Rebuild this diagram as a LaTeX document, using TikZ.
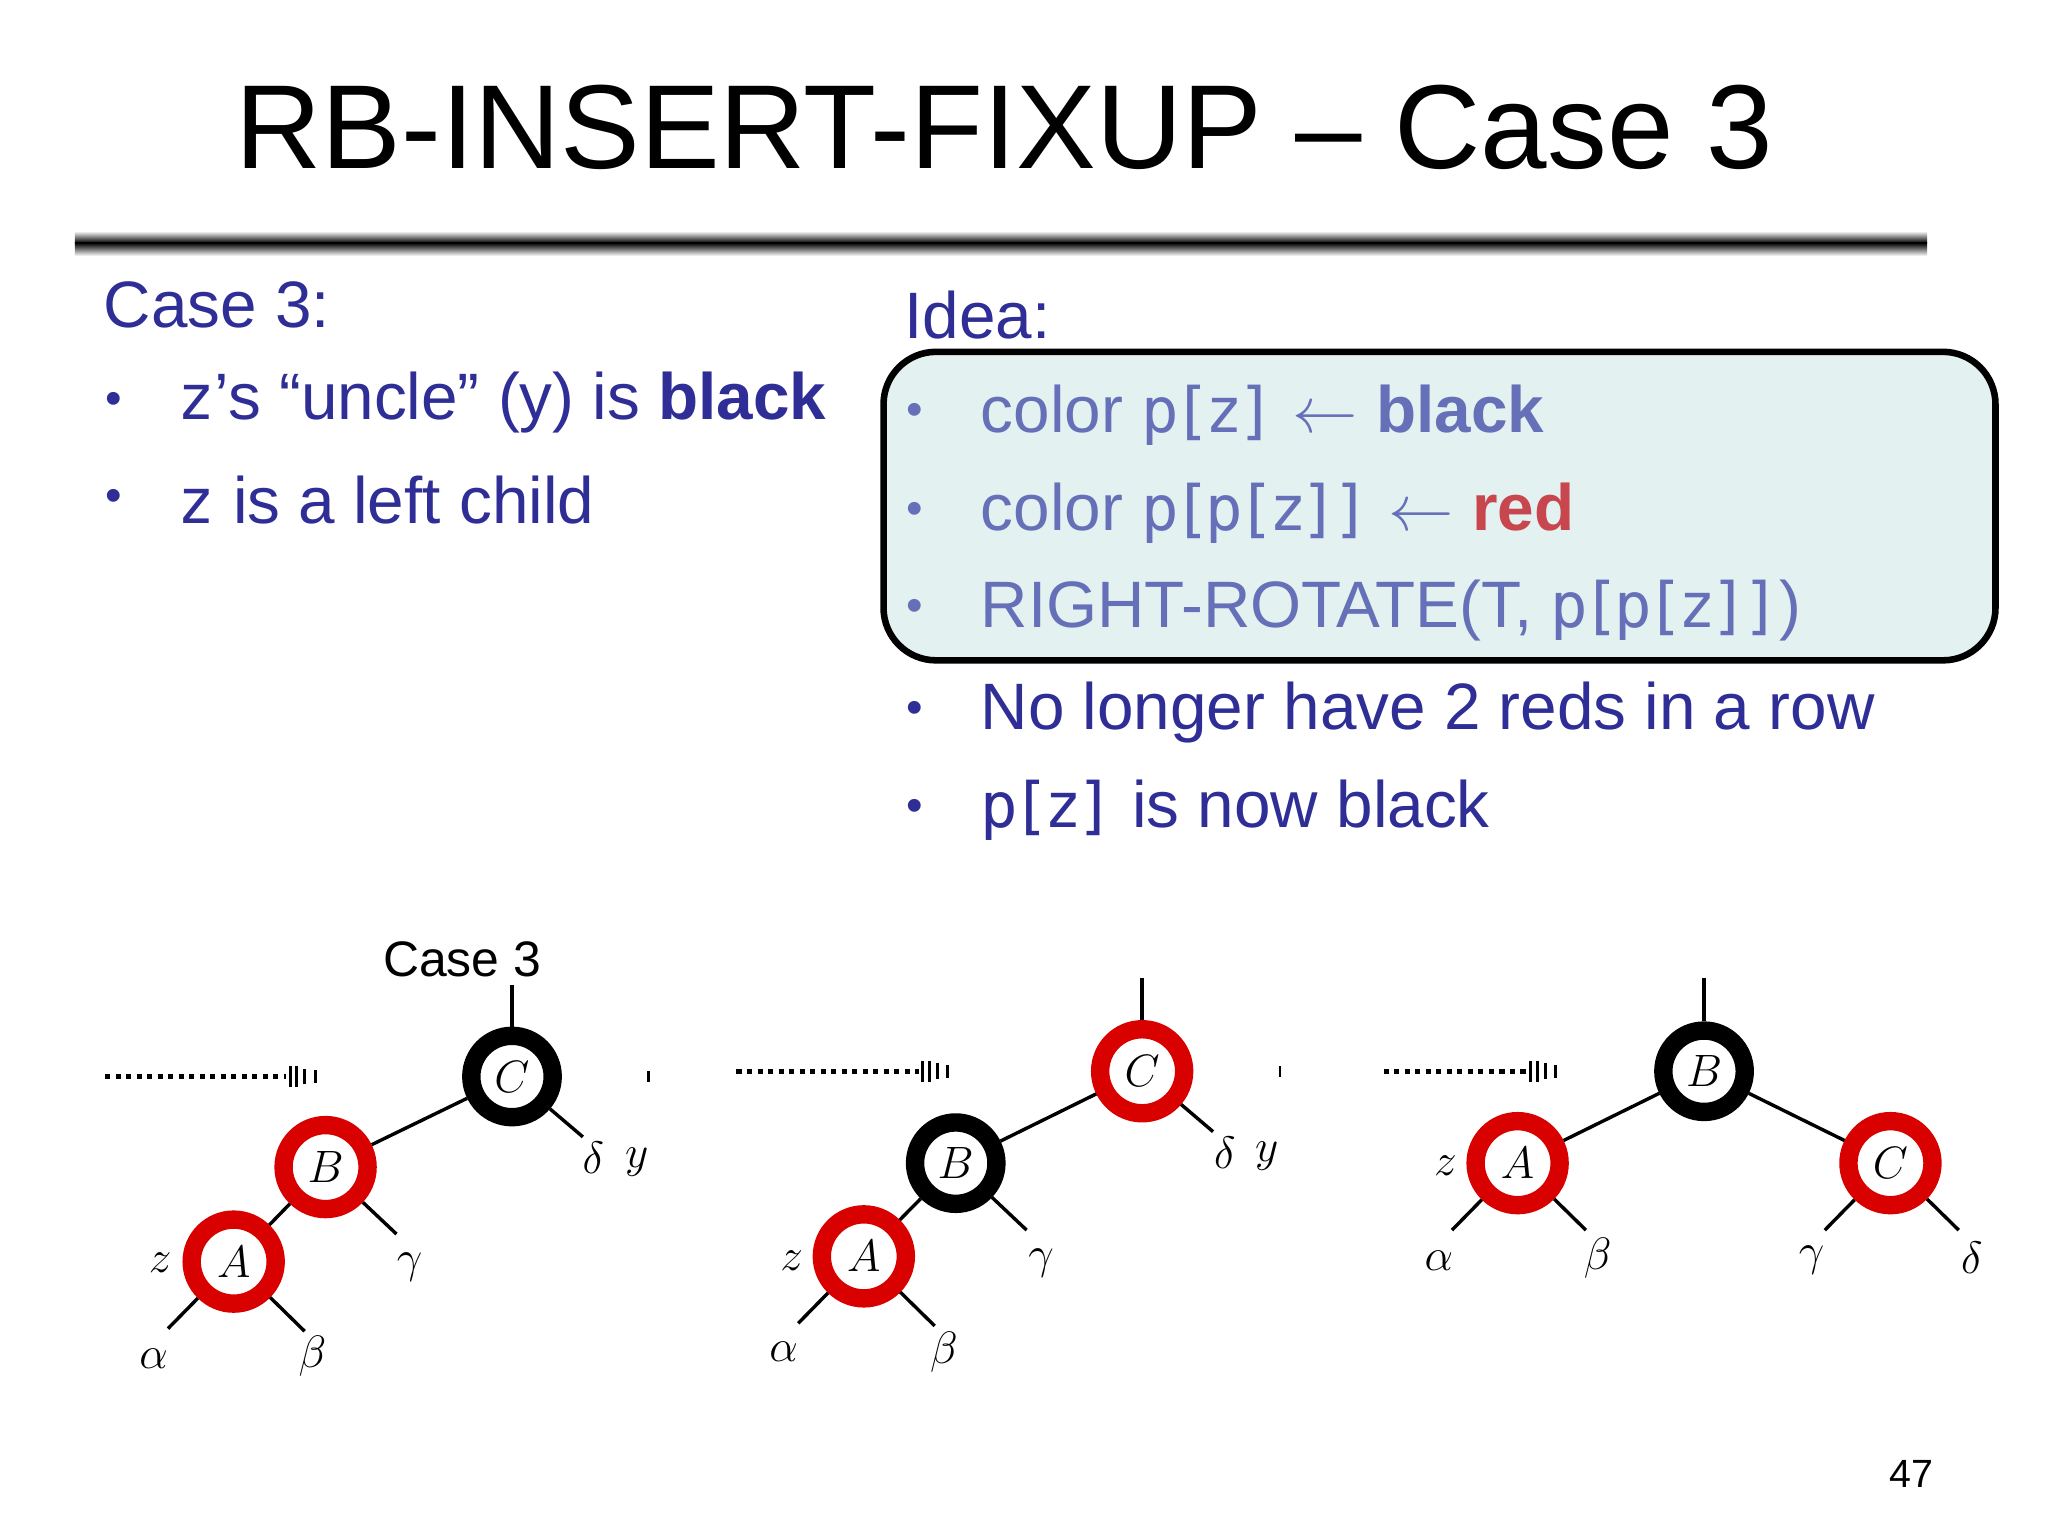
\documentclass[tikz,border=0pt]{standalone}
\usepackage{fontspec}
\setmainfont{Liberation Sans}
\newfontfamily\monof[Scale=0.95,LetterSpace=-9]{DejaVu Sans Mono}
\begin{document}
\begin{tikzpicture}[x=0.5pt,y=-0.5pt,
  redn/.style={circle,draw=red!85!black,line width=7pt,minimum size=32pt,inner sep=0pt,font=\fontsize{17}{17}\selectfont},
  blkn/.style={circle,draw=black,line width=7pt,minimum size=31pt,inner sep=0pt,font=\fontsize{17}{17}\selectfont},
  edge/.style={line width=1.3pt},
  lab/.style={font=\fontsize{17}{17}\selectfont},
  body/.style={anchor=west,font=\fontsize{25}{25}\selectfont,text=maincol},
  bul/.style={font=\fontsize{18}{18}\selectfont},
  darr/.style={line width=2pt,dotted}]
\definecolor{maincol}{HTML}{2E2E96}
\definecolor{ideacol}{HTML}{6670B8}
\definecolor{redcol}{HTML}{C8464E}
\definecolor{boxfill}{HTML}{E3F1F0}
\useasboundingbox (0,0) rectangle (1560,1170);
\fill[white] (0,0) rectangle (1560,1170);
% title
\node[font=\fontsize{45.5}{46}\selectfont] (title) at (765,97) {RB-INSERT-FIXUP -- Case 3};
\shade[top color=white,bottom color=black] (57,176) rectangle (1468,185);
\shade[top color=black,bottom color=white] (57,185) rectangle (1468,195);
% left
\node[body] (c3) at (72,232) {Case 3:};
\node[bul,text=maincol] (b1) at (87,307) {•};
\node[body] (t1) at (128,307) {{\monof z}’s “uncle” (y) is \textbf{black}};
\node[bul,text=maincol] (b2) at (87,381) {•};
\node[body] (t2) at (128,381) {{\monof z} is a left child};
% idea
\node[body] (idea) at (682,240) {Idea:};
\draw[line width=2.5pt,fill=boxfill,rounded corners=20pt] (673,268) rectangle (1520,503);
\node[bul,text=ideacol] (b3) at (697,316) {•};
\node[body,text=ideacol] (t3) at (740,316) {color {\monof p[z]} $\leftarrow$ \textbf{black}};
\node[bul,text=ideacol] (b4) at (697,391) {•};
\node[body,text=ideacol] (t4) at (740,391) {color {\monof p[p[z]]} $\leftarrow$ \textbf{\color{redcol}red}};
\node[bul,text=ideacol] (b5) at (697,465) {•};
\node[body,text=ideacol] (t5) at (740,465) {RIGHT-ROTATE(T, {\monof p[p[z]]})};
\node[bul,text=maincol] (b6) at (697,543) {•};
\node[body] (t6) at (740,543) {No longer have 2 reds in a row};
\node[bul,text=maincol] (b7) at (697,617) {•};
\node[body] (t7) at (740,617) {{\monof p[z]} is now black};
% tree 1
\node[font=\fontsize{19}{19}\selectfont] (case3) at (352,731) {Case 3};
\node[blkn] (C1) at (390,820) {$C$};
\node[redn] (B1) at (248,889) {$B$};
\node[redn] (A1) at (178,961) {$A$};
\coordinate (C1t) at (390,750);
\coordinate (a1e) at (128,1012); \coordinate (b1e) at (232,1014);
\coordinate (g1e) at (302,940); \coordinate (d1e) at (444,866);
\draw[edge] (C1t) -- (C1.north); \draw[edge] (C1) -- (B1); \draw[edge] (B1) -- (A1);
\draw[edge] (A1) -- (a1e); \draw[edge] (A1) -- (b1e); \draw[edge] (B1) -- (g1e); \draw[edge] (C1) -- (d1e);
\node[lab] (z1) at (122,962) {$z$};
\node[lab] (al1) at (117,1035) {$\alpha$};
\node[lab] (be1) at (238,1033) {$\beta$};
\node[lab] (ga1) at (312,965) {$\gamma$};
\node[lab] (de1) at (452,882) {$\delta$};
\node[lab] (y1) at (485,885) {$y$};
\coordinate (ar1s) at (80,820); \coordinate (ar1e) at (218,820);
\draw[darr] (ar1s) -- (ar1e);
\draw[line width=1.2pt] (221,812) -- (221,828) (226,812)--(226,828) (232,814)--(232,826) (240,815)--(240,825);
\draw[line width=1pt] (494,816) -- (494,824);
% tree 2
\node[redn] (C2) at (870,816) {$C$};
\node[blkn] (B2) at (728,886) {$B$};
\node[redn] (A2) at (658,957) {$A$};
\coordinate (C2t) at (870,745);
\coordinate (a2e) at (608,1008); \coordinate (b2e) at (712,1010);
\coordinate (g2e) at (782,937); \coordinate (d2e) at (924,862);
\draw[edge] (C2t) -- (C2.north); \draw[edge] (C2) -- (B2); \draw[edge] (B2) -- (A2);
\draw[edge] (A2) -- (a2e); \draw[edge] (A2) -- (b2e); \draw[edge] (B2) -- (g2e); \draw[edge] (C2) -- (d2e);
\node[lab] (z2) at (603,960) {$z$};
\node[lab] (al2) at (597,1030) {$\alpha$};
\node[lab] (be2) at (719,1030) {$\beta$};
\node[lab] (ga2) at (793,962) {$\gamma$};
\node[lab] (de2) at (933,878) {$\delta$};
\node[lab] (y2) at (965,881) {$y$};
\coordinate (ar2s) at (561,816); \coordinate (ar2e) at (700,816);
\draw[darr] (ar2s) -- (ar2e);
\draw[line width=1.2pt] (703,808) -- (703,824) (708,808)--(708,824) (714,810)--(714,822) (722,811)--(722,821);
\draw[line width=1pt] (975,812) -- (975,820);
% tree 3
\node[blkn] (B3) at (1298,816) {$B$};
\node[redn] (A3) at (1156,886) {$A$};
\node[redn] (C3) at (1440,886) {$C$};
\coordinate (B3t) at (1298,745);
\coordinate (a3e) at (1106,937); \coordinate (b3e) at (1208,937);
\coordinate (g3e) at (1390,937); \coordinate (d3e) at (1492,937);
\draw[edge] (B3t) -- (B3.north); \draw[edge] (B3) -- (A3); \draw[edge] (B3) -- (C3);
\draw[edge] (A3) -- (a3e); \draw[edge] (A3) -- (b3e); \draw[edge] (C3) -- (g3e); \draw[edge] (C3) -- (d3e);
\node[lab] (z3) at (1101,888) {$z$};
\node[lab] (al3) at (1096,960) {$\alpha$};
\node[lab] (be3) at (1217,958) {$\beta$};
\node[lab] (ga3) at (1380,960) {$\gamma$};
\node[lab] (de3) at (1502,958) {$\delta$};
\coordinate (ar3s) at (1054,816); \coordinate (ar3e) at (1163,816);
\draw[darr] (ar3s) -- (ar3e);
\draw[line width=1.2pt] (1166,808) -- (1166,824) (1171,808)--(1171,824) (1177,810)--(1177,822) (1185,811)--(1185,821);
% page number
\node[font=\fontsize{15}{15}\selectfont] (pg) at (1456,1123) {47};
\end{tikzpicture}
\end{document}
